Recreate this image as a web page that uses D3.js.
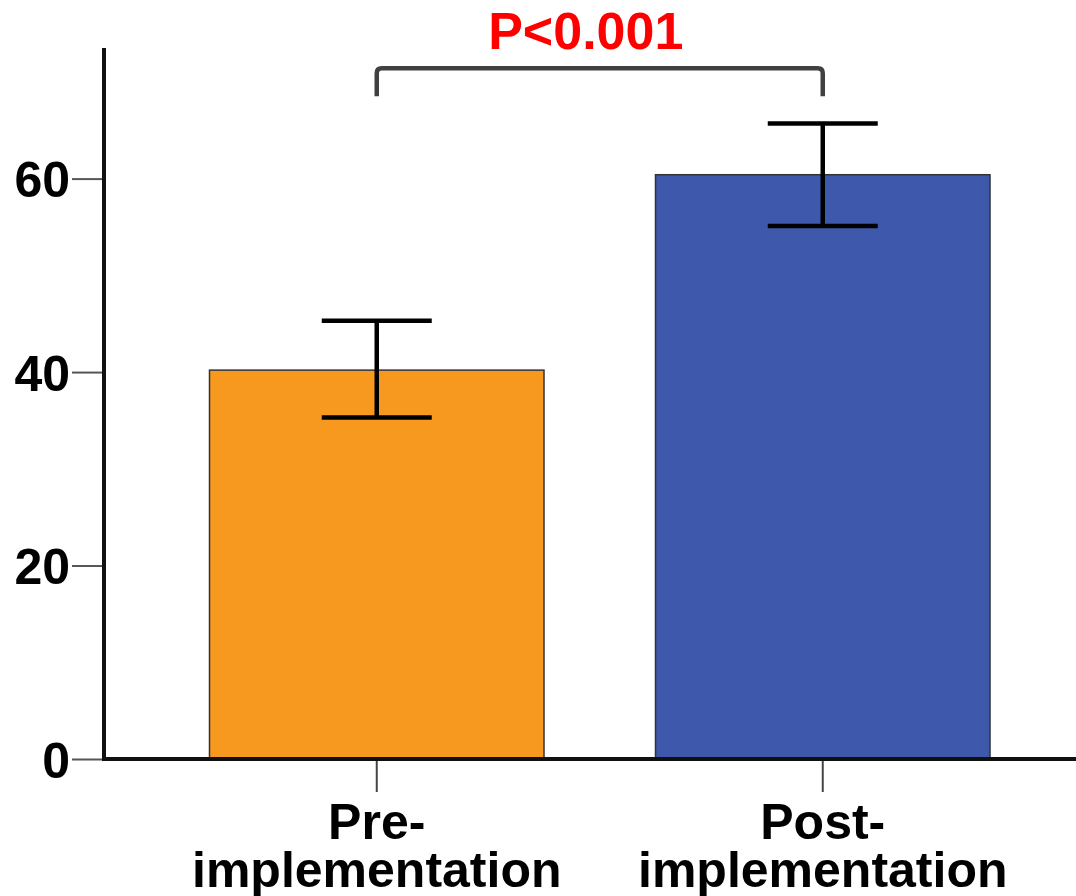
<!DOCTYPE html>
<html>
<head>
<meta charset="utf-8">
<script src="https://cdn.jsdelivr.net/npm/d3@7"></script>
<style>
  body { margin: 0; background: #fff; }
  svg { display: block; font-family: "Liberation Sans", Arial, sans-serif; }
</style>
</head>
<body>
<svg></svg>
<script>
// Data
var groups = ['Pre-implementation', 'Post-implementation'];
var labelLines = [['Pre-', 'implementation'], ['Post-', 'implementation']];
var means = [40.2, 60.4];
var lower = [35.3, 55.1];
var upper = [45.3, 65.7];
var colors = ['#F7991E', '#3E58AB'];
var yTicks = [0, 20, 40, 60];
var pText = 'P<0.001';
var bracketTop = 71.4;
var bracketFoot = 68.5;

var width = 1076;
var height = 896;

var svg = d3.select('svg')
  .attr('width', width)
  .attr('height', height);

var y = d3.scaleLinear()
  .domain([0, 73.5])
  .range([759, 48]);

var x = d3.scaleBand()
  .domain(groups)
  .range([153.75, 1045.75])
  .paddingInner(0.25)
  .paddingOuter(0.125);

// bars
svg.selectAll('rect.bar')
  .data(groups)
  .enter().append('rect')
  .attr('class', 'bar')
  .attr('x', function (d) { return x(d); })
  .attr('width', x.bandwidth())
  .attr('y', function (d, i) { return y(means[i]); })
  .attr('height', function (d, i) { return y(0) - y(means[i]); })
  .style('fill', function (d, i) { return colors[i]; })
  .style('stroke', '#333')
  .style('stroke-width', 1.5);

// error bars
var capHalf = 55;
var err = svg.selectAll('g.err')
  .data(groups)
  .enter().append('g')
  .attr('class', 'err')
  .style('stroke', '#000')
  .style('stroke-width', 4.5);

err.append('line')
  .attr('x1', function (d) { return x(d) + x.bandwidth() / 2; })
  .attr('x2', function (d) { return x(d) + x.bandwidth() / 2; })
  .attr('y1', function (d, i) { return y(lower[i]); })
  .attr('y2', function (d, i) { return y(upper[i]); });
err.append('line')
  .attr('x1', function (d) { return x(d) + x.bandwidth() / 2 - capHalf; })
  .attr('x2', function (d) { return x(d) + x.bandwidth() / 2 + capHalf; })
  .attr('y1', function (d, i) { return y(upper[i]); })
  .attr('y2', function (d, i) { return y(upper[i]); });
err.append('line')
  .attr('x1', function (d) { return x(d) + x.bandwidth() / 2 - capHalf; })
  .attr('x2', function (d) { return x(d) + x.bandwidth() / 2 + capHalf; })
  .attr('y1', function (d, i) { return y(lower[i]); })
  .attr('y2', function (d, i) { return y(lower[i]); });

// y axis
var yAxis = svg.append('g')
  .attr('transform', 'translate(104,0)')
  .call(d3.axisLeft(y).tickValues(yTicks).tickSize(32).tickPadding(2));
yAxis.select('.domain').remove();
yAxis.selectAll('.tick line').style('stroke', '#555').style('stroke-width', 2);
yAxis.selectAll('.tick text')
  .style('font-size', '50px')
  .style('font-weight', 'bold')
  .style('fill', '#000')
  .attr('dy', '0.36em');

svg.append('line')
  .attr('x1', 104).attr('x2', 104)
  .attr('y1', y.range()[1]).attr('y2', y(0) + 2)
  .style('stroke', '#111').style('stroke-width', 4);

// x axis
var xAxis = svg.append('g')
  .attr('transform', 'translate(0,' + y(0) + ')')
  .call(d3.axisBottom(x).tickSize(33).tickFormat(''));
xAxis.select('.domain').remove();
xAxis.selectAll('.tick line').style('stroke', '#444').style('stroke-width', 2);

svg.append('line')
  .attr('x1', 102).attr('x2', width)
  .attr('y1', y(0)).attr('y2', y(0))
  .style('stroke', '#111').style('stroke-width', 4);

svg.selectAll('text.xlab')
  .data(groups)
  .enter().append('text')
  .attr('class', 'xlab')
  .attr('text-anchor', 'middle')
  .attr('x', function (d) { return x(d) + x.bandwidth() / 2; })
  .attr('y', 839)
  .style('font-size', '50px')
  .style('font-weight', 'bold')
  .each(function (d, i) {
    var t = d3.select(this);
    labelLines[i].forEach(function (line, j) {
      t.append('tspan')
        .attr('x', x(d) + x.bandwidth() / 2)
        .attr('dy', j === 0 ? 0 : 48)
        .text(line);
    });
  });

// significance bracket
var bx0 = x(groups[0]) + x.bandwidth() / 2;
var bx1 = x(groups[1]) + x.bandwidth() / 2;
var r = 5;
svg.append('path')
  .attr('d', 'M' + bx0 + ',' + y(bracketFoot) +
    'L' + bx0 + ',' + (y(bracketTop) + r) +
    'Q' + bx0 + ',' + y(bracketTop) + ' ' + (bx0 + r) + ',' + y(bracketTop) +
    'L' + (bx1 - r) + ',' + y(bracketTop) +
    'Q' + bx1 + ',' + y(bracketTop) + ' ' + bx1 + ',' + (y(bracketTop) + r) +
    'L' + bx1 + ',' + y(bracketFoot))
  .style('fill', 'none')
  .style('stroke', '#404040')
  .style('stroke-width', 4.5);

svg.append('text')
  .attr('x', (bx0 + bx1) / 2 - 14)
  .attr('y', 49)
  .attr('text-anchor', 'middle')
  .style('font-size', '52px')
  .style('font-weight', 'bold')
  .style('fill', '#FF0000')
  .text(pText);
</script>
</body>
</html>
